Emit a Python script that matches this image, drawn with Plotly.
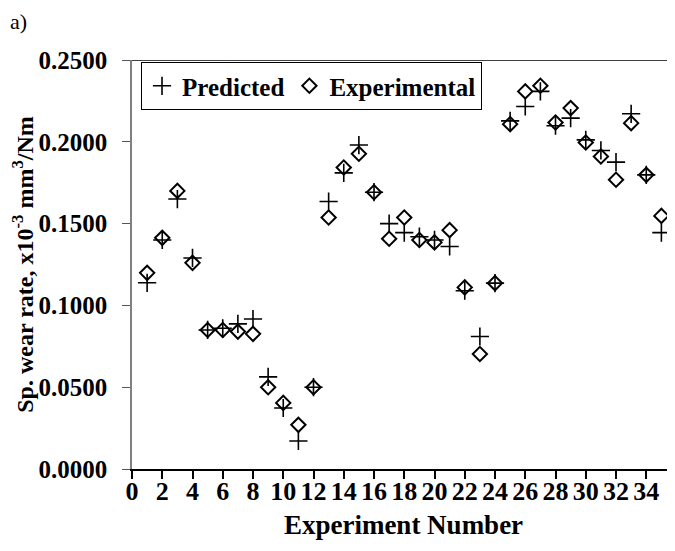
import plotly.graph_objects as go

experiment = list(range(1, 36))
predicted = [0.1138, 0.1400, 0.1650, 0.1290, 0.0850, 0.0860, 0.0887, 0.0917, 0.0563, 0.0373,
             0.0171, 0.0500, 0.1635, 0.1810, 0.1980, 0.1692, 0.1500, 0.1445, 0.1420, 0.1400,
             0.1360, 0.1090, 0.0810, 0.1136, 0.2128, 0.2216, 0.2308, 0.2098, 0.2145, 0.2012,
             0.1947, 0.1876, 0.2171, 0.1798, 0.1445]
experimental = [0.1199, 0.1413, 0.1700, 0.1260, 0.0850, 0.0850, 0.0840, 0.0826, 0.0500, 0.0404,
                0.0270, 0.0500, 0.1537, 0.1843, 0.1927, 0.1692, 0.1407, 0.1537, 0.1400, 0.1385,
                0.1460, 0.1110, 0.0703, 0.1136, 0.2108, 0.2308, 0.2343, 0.2118, 0.2206, 0.1996,
                0.1910, 0.1768, 0.2114, 0.1798, 0.1547]

FONT = "Liberation Serif"

fig = go.Figure()
fig.add_trace(go.Scatter(
    x=experiment, y=predicted, mode="markers", name="Predicted", cliponaxis=False,
    marker=dict(symbol="cross-thin-open", size=13, color="black",
                line=dict(color="black", width=1.6)),
))
fig.add_trace(go.Scatter(
    x=experiment, y=experimental, mode="markers", name="Experimental", cliponaxis=False,
    marker=dict(symbol="diamond-open", size=11, color="black",
                line=dict(color="black", width=2)),
))

fig.update_layout(
    width=675, height=551,
    margin=dict(l=124, r=8, t=52, b=90, autoexpand=False),
    paper_bgcolor="white", plot_bgcolor="white",
    font=dict(family=FONT, color="black"),
    showlegend=True,
    legend=dict(
        orientation="h", x=0.0166, y=0.995, xanchor="left", yanchor="top",
        bordercolor="black", borderwidth=1, bgcolor="white",
        font=dict(family=FONT, size=25, weight="bold", color="black"),
        itemwidth=30, tracegroupgap=0,
    ),
    xaxis=dict(
        range=[0, 35.9], tick0=0, dtick=2, showgrid=False, zeroline=False,
        automargin=False,
        showline=True, linecolor="black", linewidth=1.5,
        ticks="outside", ticklen=8, tickcolor="black", tickwidth=1.5,
        ticklabelstandoff=-10,
        tickfont=dict(family=FONT, size=26, weight="bold", color="black"),
        title=dict(text="Experiment Number", standoff=10,
                   font=dict(family=FONT, size=27, weight="bold", color="black")),
    ),
    yaxis=dict(
        range=[0, 0.25], tick0=0, dtick=0.05, tickformat=".4f", showgrid=False,
        automargin=False,
        zeroline=False, showline=True, linecolor="#808080", linewidth=1.5,
        ticks="outside", ticklen=8, tickcolor="#555555", tickwidth=1,
        ticklabelstandoff=10,
        tickfont=dict(family=FONT, size=25, weight="bold", color="black"),
        title=dict(text="Sp. wear rate, x10<sup>-3</sup> mm<sup>3</sup>/Nm", standoff=2,
                   font=dict(family=FONT, size=24, weight="bold", color="black")),
    ),
    shapes=[dict(type="line", xref="paper", yref="y", x0=0, x1=1, y0=0.25, y1=0.25,
                 line=dict(color="black", width=1.5))],
    annotations=[dict(text="a)", xref="paper", yref="paper", x=-0.228, y=1.093,
                      xanchor="left", yanchor="middle", showarrow=False,
                      font=dict(family=FONT, size=22, color="black"))],
)

fig.write_html("out.html")
